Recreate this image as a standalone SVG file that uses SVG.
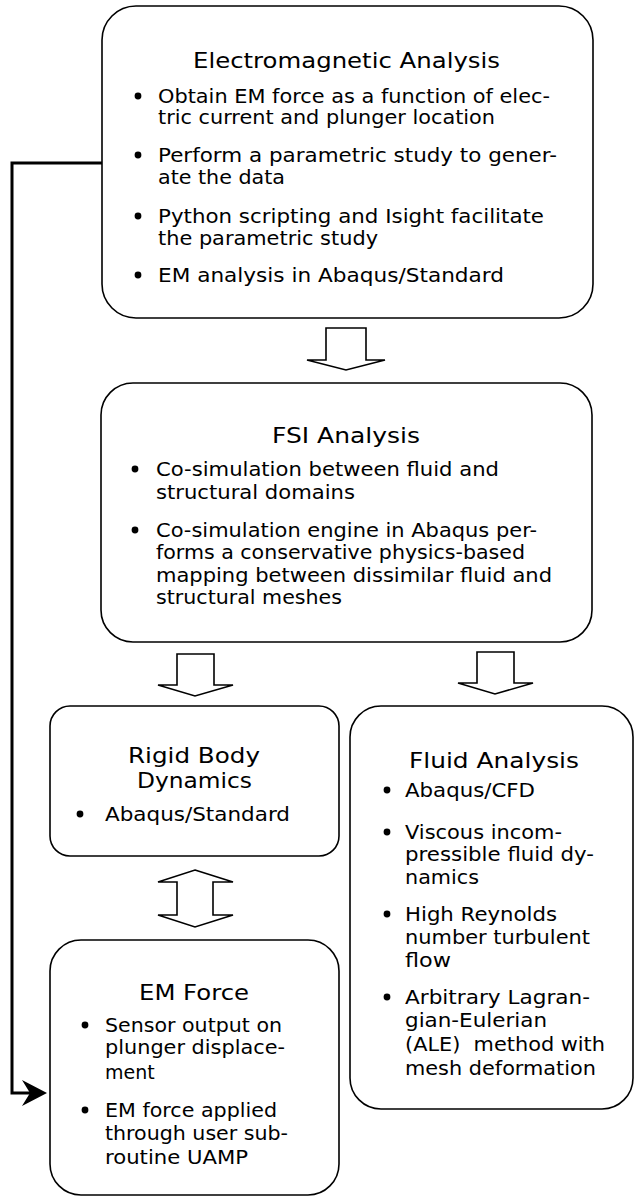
<svg xmlns="http://www.w3.org/2000/svg" width="635" height="1197" viewBox="0 0 635 1197">
<style>
.box{fill:#fff;stroke:#000;stroke-width:1.6}
.blk{fill:#fff;stroke:#000;stroke-width:1.6;stroke-linejoin:miter}
.t{font-family:"DejaVu Sans","Noto Sans",sans-serif;font-size:22px;fill:#000}
.b{font-family:"DejaVu Sans","Noto Sans",sans-serif;font-size:19px;fill:#000}
.dot{fill:#000}
.con{fill:none;stroke:#000;stroke-width:3}
</style>
<rect width="635" height="1197" fill="#fff"/>
<g id="connectors">
<path class="con" d="M103,163 H12 V1093 H38"/>
<polygon points="47,1093 22,1080 30,1093 22,1106" fill="#000"/>
<polygon class="blk" points="326,328 366,328 366,360 385,360 346,370 307,360 326,360"/>
<polygon class="blk" points="177,654 214,654 214,685 233,685 195,696 158,685 177,685"/>
<polygon class="blk" points="477,652 514,652 514,683 533,683 495,694 458,683 477,683"/>
<polygon class="blk" points="195,870 233,882 213,882 213,915 233,915 195,927 158,915 177,915 177,882 158,882"/>
</g>
<g id="em-analysis">
<rect class="box" x="102" y="6" width="491" height="312" rx="34" ry="34"/>
<text class="t" x="193" y="68" textLength="307" lengthAdjust="spacingAndGlyphs">Electromagnetic Analysis</text>
<circle class="dot" cx="138" cy="96" r="3.4"/>
<text class="b" x="158" y="103" textLength="392" lengthAdjust="spacingAndGlyphs">Obtain EM force as a function of elec-</text>
<text class="b" x="158" y="124" textLength="337" lengthAdjust="spacingAndGlyphs">tric current and plunger location</text>
<circle class="dot" cx="138" cy="155" r="3.4"/>
<text class="b" x="158" y="162" textLength="399" lengthAdjust="spacingAndGlyphs">Perform a parametric study to gener-</text>
<text class="b" x="158" y="184" textLength="127" lengthAdjust="spacingAndGlyphs">ate the data</text>
<circle class="dot" cx="138" cy="216" r="3.4"/>
<text class="b" x="158" y="223" textLength="386" lengthAdjust="spacingAndGlyphs">Python scripting and Isight facilitate</text>
<text class="b" x="158" y="245" textLength="220" lengthAdjust="spacingAndGlyphs">the parametric study</text>
<circle class="dot" cx="138" cy="275" r="3.4"/>
<text class="b" x="158" y="282" textLength="346" lengthAdjust="spacingAndGlyphs">EM analysis in Abaqus/Standard</text>
</g>
<g id="fsi-analysis">
<rect class="box" x="101" y="383" width="491" height="259" rx="32" ry="32"/>
<text class="t" x="272" y="443" textLength="148" lengthAdjust="spacingAndGlyphs">FSI Analysis</text>
<circle class="dot" cx="135" cy="469" r="3.4"/>
<text class="b" x="156" y="476" textLength="343" lengthAdjust="spacingAndGlyphs">Co-simulation between fluid and</text>
<text class="b" x="156" y="499" textLength="199" lengthAdjust="spacingAndGlyphs">structural domains</text>
<circle class="dot" cx="135" cy="530" r="3.4"/>
<text class="b" x="156" y="537" textLength="381" lengthAdjust="spacingAndGlyphs">Co-simulation engine in Abaqus per-</text>
<text class="b" x="156" y="559" textLength="369" lengthAdjust="spacingAndGlyphs">forms a conservative physics-based</text>
<text class="b" x="156" y="582" textLength="396" lengthAdjust="spacingAndGlyphs">mapping between dissimilar fluid and</text>
<text class="b" x="156" y="604" textLength="186" lengthAdjust="spacingAndGlyphs">structural meshes</text>
</g>
<g id="rigid-body">
<rect class="box" x="50" y="706" width="289" height="150" rx="20" ry="20"/>
<text class="t" x="128" y="763" textLength="132" lengthAdjust="spacingAndGlyphs">Rigid Body</text>
<text class="t" x="137" y="788" textLength="115" lengthAdjust="spacingAndGlyphs">Dynamics</text>
<circle class="dot" cx="80" cy="814" r="3.4"/>
<text class="b" x="105" y="821" textLength="185" lengthAdjust="spacingAndGlyphs">Abaqus/Standard</text>
</g>
<g id="fluid-analysis">
<rect class="box" x="350" y="706" width="283" height="403" rx="31" ry="31"/>
<text class="t" x="409" y="768" textLength="170" lengthAdjust="spacingAndGlyphs">Fluid Analysis</text>
<circle class="dot" cx="387" cy="790" r="3.4"/>
<text class="b" x="405" y="797" textLength="130" lengthAdjust="spacingAndGlyphs">Abaqus/CFD</text>
<circle class="dot" cx="387" cy="832" r="3.4"/>
<text class="b" x="405" y="839" textLength="157" lengthAdjust="spacingAndGlyphs">Viscous incom-</text>
<text class="b" x="405" y="861" textLength="189" lengthAdjust="spacingAndGlyphs">pressible fluid dy-</text>
<text class="b" x="405" y="884" textLength="74" lengthAdjust="spacingAndGlyphs">namics</text>
<circle class="dot" cx="387" cy="914" r="3.4"/>
<text class="b" x="405" y="921" textLength="152" lengthAdjust="spacingAndGlyphs">High Reynolds</text>
<text class="b" x="405" y="944" textLength="185" lengthAdjust="spacingAndGlyphs">number turbulent</text>
<text class="b" x="405" y="967" textLength="46" lengthAdjust="spacingAndGlyphs">flow</text>
<circle class="dot" cx="387" cy="997" r="3.4"/>
<text class="b" x="405" y="1004" textLength="185" lengthAdjust="spacingAndGlyphs">Arbitrary Lagran-</text>
<text class="b" x="405" y="1027" textLength="142" lengthAdjust="spacingAndGlyphs">gian-Eulerian</text>
<text class="b" x="405" y="1051" textLength="200" lengthAdjust="spacingAndGlyphs" xml:space="preserve">(ALE)  method with</text>
<text class="b" x="405" y="1075" textLength="191" lengthAdjust="spacingAndGlyphs">mesh deformation</text>
</g>
<g id="em-force">
<rect class="box" x="50" y="940" width="289" height="255" rx="31" ry="31"/>
<text class="t" x="139" y="1000" textLength="110" lengthAdjust="spacingAndGlyphs">EM Force</text>
<circle class="dot" cx="85" cy="1025" r="3.4"/>
<text class="b" x="105" y="1032" textLength="177" lengthAdjust="spacingAndGlyphs">Sensor output on</text>
<text class="b" x="105" y="1054" textLength="180" lengthAdjust="spacingAndGlyphs">plunger displace-</text>
<text class="b" x="105" y="1079">ment</text>
<circle class="dot" cx="85" cy="1110" r="3.4"/>
<text class="b" x="105" y="1117" textLength="172" lengthAdjust="spacingAndGlyphs">EM force applied</text>
<text class="b" x="105" y="1140" textLength="183" lengthAdjust="spacingAndGlyphs">through user sub-</text>
<text class="b" x="105" y="1164" textLength="143" lengthAdjust="spacingAndGlyphs">routine UAMP</text>
</g>
</svg>
